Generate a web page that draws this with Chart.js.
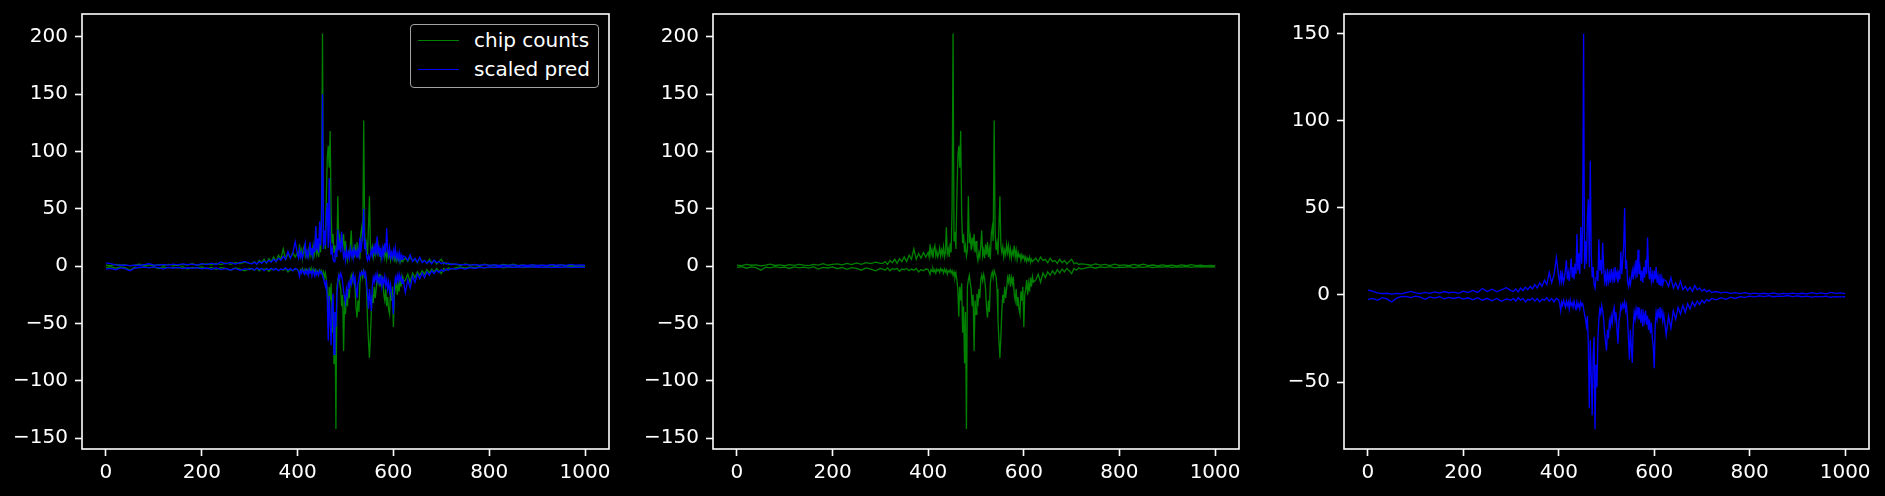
<!DOCTYPE html>
<html>
<head>
<meta charset="utf-8">
<script src="https://cdn.jsdelivr.net/npm/chart.js@4.4.0/dist/chart.umd.min.js"></script>
<style>
  html, body { margin: 0; padding: 0; background: #000; }
  #wrap { position: relative; width: 1885px; height: 496px; background: #000; overflow: hidden; }
  canvas { position: absolute; top: 0; }
  .lg-box { position: absolute; box-sizing: border-box; border: 1.5px solid #a3a3a3; border-radius: 4px; background: #000; }
  .lg-line { position: absolute; height: 1px; }
  .lg-text { position: absolute; font: 20px 'DejaVu Sans', sans-serif; line-height: 28px; color: #fff; white-space: nowrap; }
</style>
</head>
<body>
<div id="wrap">
  <canvas id="c1" width="619" height="496" style="left:0px"></canvas>
  <canvas id="c2" width="619" height="496" style="left:630px"></canvas>
  <canvas id="c3" width="619" height="496" style="left:1260px"></canvas>
</div>
<script>
// sample positions: coarse on the flat tails, fine in the middle
function steps(a, b, s) { const out = []; for (let v = a; v <= b; v += s) out.push(v); return out; }
const xPos = [].concat(steps(0, 300, 10), steps(305, 395, 5), steps(400, 620, 2), steps(625, 720, 5), steps(730, 1000, 10));

const xTicks = [0, 200, 400, 600, 800, 1000];
const yTicksChip = [-150, -100, -50, 0, 50, 100, 150, 200];
const yTicksPred = [-50, 0, 50, 100, 150];

const seriesLabels = ['chip counts', 'scaled pred'];
const seriesColors = ['#008000', '#0000ff'];

// chip counts, upper strand
const chipPos = [
  1, 0.5, 1.5, 0.8, 1.2, 0.3, 1, 1.8, 0.6, 1.1, 0.4, 1.3, 0.7, 1.5, 0.9, 0.5, 1.6, 1, 2.2, 0.8, 1.5, 2, 1.2, 2.5, 1.4, 2.8, 1.6, 3, 2.2, 3.5, 2.5,
  2.5, 4, 1.5, 5, 3, 6, 2.5, 6.5, 4, 8, 4, 9.5, 6, 15, 6, 11, 7, 12, 8,
  12, 8, 19, 10, 14, 7, 15, 18, 9, 13,
  8, 11, 16, 9, 14, 10, 17, 8, 12, 34,
  11, 15, 8, 20, 12, 51, 203, 22, 30, 15,
  60, 95, 105, 86, 118, 45, 20, 28, 12, 18,
  9, 14, 61, 20, 26, 14, 25, 18, 28, 12,
  22, 10, 5, 12, 8, 18, 31, 9, 14, 7,
  19, 10, 21, 8, 15, 6, 28, 34, 22, 127,
  30, 14, 20, 10, 35, 61, 18, 12, 17, 8,
  14, 10, 19, 12, 18, 9, 15, 7, 13, 10,
  18, 8, 14, 6, 12, 8, 11, 5, 10, 7,
  9, 5, 8, 4, 7, 5, 8, 3, 6, 4,
  5,
  7, 4, 8, 5, 6, 3, 7, 4, 5, 2.5, 6, 3, 5, 2, 4, 6, 2, 3, 1.5, 2,
  1.5, 0.8, 2, 1, 1.5, 0.5, 1.8, 0.7, 1.2, 0.4, 1.5, 0.6, 1.8, 0.5, 1, 0.3, 1.2, 0.5, 0.9, 0.3, 1.1, 0.4, 1.3, 0.5, 0.8, 0.2, 0.6, 0.3
];
// chip counts, lower strand
const chipNeg = [
  -1, -0.5, -1.8, -0.7, -1.2, -3.5, -0.8, -1.5, -0.4, -1.3, -0.9, -2, -0.6, -1.4, -0.8, -1.7, -0.5, -2.5, -1, -1.6, -0.7, -2.2, -1.1, -2.8, -1.3, -2, -3.5, -1.5, -2.6, -4, -2,
  -2.5, -3.5, -1.5, -4, -2, -3, -1.8, -4.5, -2.5, -3, -2, -4, -2.5, -3.5, -2, -5, -3, -4, -2.5,
  -3, -5, -7, -3, -4.5, -2, -5, -3, -6, -2.5,
  -4, -3, -5.5, -2, -4, -3, -6, -2.5, -5, -3,
  -7, -4, -5, -3, -6, -4, -8, -5, -10, -6,
  -12, -20, -44, -18, -30, -15, -58, -35, -85, -40,
  -142, -18, -12, -8, -15, -20, -35, -25, -74, -30,
  -42, -24, -35, -20, -28, -12, -8, -13, -7, -11,
  -20, -36, -45, -30, -40, -15, -8, -5, -10, -4,
  -7, -9, -20, -47, -65, -80, -62, -39, -25, -32,
  -18, -28, -20, -10, -14, -7, -18, -10, -15, -9,
  -25, -30, -20, -35, -27, -38, -42, -22, -30, -18,
  -53, -25, -20, -12, -25, -15, -22, -10, -18, -9,
  -14,
  -12, -7, -14, -6, -10, -5, -8, -4, -7, -3, -6, -2.5, -5, -2, -4, -6.5, -2, -3.5, -1.5, -2.5,
  -1.5, -0.7, -1.8, -0.6, -1.2, -0.4, -1.5, -0.8, -1.1, -0.3, -1.4, -0.6, -1, -0.4, -1.3, -0.5, -0.9, -0.3, -1.1, -0.5, -0.8, -0.3, -1, -0.4, -0.7, -0.3, -0.8, -0.5
];
// scaled prediction, upper strand
const predPos = [
  2.8, 2.2, 1.2, 0.8, 1, 0.5, 0.9, 0.6, 1.4, 2.1, 1.2, 0.8, 1.5, 0.9, 1.8, 1.1, 2, 1.3, 1.7, 1, 2.2, 1.4, 2.6, 1.5, 3.7, 2, 3.3, 1.8, 3, 4.2, 2.5,
  2, 3.5, 1.8, 4, 2.5, 4.5, 3, 5, 3.5, 6, 4, 7, 5, 8.5, 6, 13, 7, 11.5, 21.5,
  10, 7, 14, 8, 12, 7, 10, 15, 20, 9,
  13, 8, 14, 21, 10, 16, 9, 18, 12, 35,
  14, 24, 12, 39, 18, 40, 150, 15, 31, 18,
  45, 55, 16, 77, 24, 10, 16, 6, 4, 10,
  14, 8, 32, 14, 20, 12, 30, 16, 8, 12,
  5, 15, 8, 12, 7, 15, 9, 13, 7, 16,
  10, 13, 7, 14, 9, 25, 12, 20, 28, 50,
  15, 20, 8, 5, 9, 6, 10, 14, 9, 16,
  12, 20, 10, 26, 12, 16, 8, 14, 7, 16,
  10, 20, 12, 33, 14, 9, 16, 8, 12, 7,
  14, 9, 16, 7, 11, 6, 12, 5, 10, 6,
  9,
  8, 5, 10, 4, 7, 3.5, 8, 3, 5, 2.5, 4.5, 2, 5.5, 3, 4, 2.2, 3.3, 1.8, 2.8, 1.5,
  2, 1.2, 1.6, 0.9, 1.4, 0.8, 1.3, 0.7, 1.1, 0.6, 1, 0.7, 1.2, 0.5, 0.9, 0.6, 1.1, 0.7, 1, 0.6, 1.3, 0.8, 1.2, 0.7, 1.5, 0.9, 1.2, 0.8
];
// scaled prediction, lower strand
const predNeg = [
  -2.5, -2, -3.1, -1.5, -2.2, -4, -1.8, -1, -0.8, -1.5, -0.7, -1.2, -2.5, -1.1, -1.8, -1, -2.2, -1.4, -2, -1.3, -2.4, -1.6, -2.8, -1.5, -3, -1.9, -3.3, -2, -3.6, -2.2, -3,
  -2, -3.5, -1.5, -3, -2, -4, -2.5, -3, -1.8, -3.5, -2, -4, -2.5, -3, -1.5, -3.5, -2, -4, -1.8,
  -3, -5, -9, -4, -6, -3, -5, -7, -3.5, -6,
  -4, -8, -3, -6, -4.5, -7, -3.5, -6, -8.8, -4,
  -7, -5, -8, -4, -6, -5, -8, -11, -14, -18,
  -12, -30, -65, -26, -45, -69, -35, -24, -77, -40,
  -53, -25, -14, -8, -10.7, -6, -9, -14, -22, -27,
  -32, -20, -25, -15, -18, -12, -16, -10, -7, -14,
  -10, -20, -28, -15, -12, -6, -8, -5, -7, -4,
  -9, -6, -14, -25, -37, -20, -30, -39, -18, -10,
  -14, -8, -12, -7, -14, -10, -16, -8, -18, -11,
  -15, -9, -17, -12, -20, -14, -22, -16, -25, -30,
  -42, -18, -10, -14, -8, -13, -7, -12, -9, -15,
  -11,
  -23, -12, -19, -9, -14, -7, -11, -6, -10, -5, -8, -4, -6.5, -3.5, -5.5, -3, -4.5, -2.5, -3.5, -2,
  -2.8, -1.5, -2.5, -1.2, -2, -1, -1.4, -0.6, -1.1, -0.5, -0.9, -0.4, -1, -0.6, -0.8, -0.3, -0.9, -0.5, -1, -0.6, -1.2, -0.8, -1.1, -0.7, -1.3, -0.9, -1.1, -1
];

function pts(vals) { return vals.map((v, i) => ({ x: xPos[i], y: v })); }

function line(vals, color, order) {
  return { data: pts(vals), borderColor: color, borderWidth: 1.3, pointRadius: 0, tension: 0, fill: false, order: order };
}

const minus = v => String(v).replace('-', '\u2212');

const framePlugin = {
  id: 'frame',
  afterDatasetsDraw(chart) {
    const { ctx, chartArea: a } = chart;
    ctx.save();
    ctx.strokeStyle = '#ffffff';
    ctx.lineWidth = 1.6;
    ctx.strokeRect(a.left, a.top, a.right - a.left, a.bottom - a.top);
    ctx.restore();
  }
};

Chart.defaults.font.family = "'DejaVu Sans', sans-serif";
Chart.defaults.font.size = 20;
Chart.defaults.color = '#ffffff';

function makePanel(id, datasets, yMin, yMax, yTicks, yWidth) {
  return new Chart(document.getElementById(id), {
    type: 'line',
    data: { datasets: datasets },
    plugins: [framePlugin],
    options: {
      responsive: false,
      animation: false,
      events: [],
      devicePixelRatio: 1,
      parsing: false,
      layout: { padding: { top: 14, right: 10, left: 0, bottom: 0 } },
      plugins: { legend: { display: false }, tooltip: { enabled: false } },
      scales: {
        x: {
          type: 'linear', min: -50, max: 1050,
          afterBuildTicks: s => { s.ticks = xTicks.map(v => ({ value: v })); },
          afterFit: s => { s.height = 47; s.paddingLeft = 0; s.paddingRight = 0; },
          grid: { drawOnChartArea: false, drawTicks: true, tickLength: 7, tickColor: '#fff', tickWidth: 1.6 },
          border: { display: false },
          ticks: { autoSkip: false, maxRotation: 0, padding: 5, color: '#fff', callback: v => String(v) }
        },
        y: {
          type: 'linear', min: yMin, max: yMax,
          afterBuildTicks: s => { s.ticks = yTicks.map(v => ({ value: v })); },
          afterFit: s => { s.width = yWidth; s.paddingTop = 0; s.paddingBottom = 0; },
          grid: { drawOnChartArea: false, drawTicks: true, tickLength: 7, tickColor: '#fff', tickWidth: 1.6 },
          border: { display: false },
          ticks: { autoSkip: false, padding: 7, color: '#fff', callback: minus }
        }
      }
    }
  });
}

makePanel('c1', [
  line(chipPos, seriesColors[0], 2), line(chipNeg, seriesColors[0], 2),
  line(predPos, seriesColors[1], 1), line(predNeg, seriesColors[1], 1)
], -159.5, 220, yTicksChip, 82);

makePanel('c2', [
  line(chipPos, seriesColors[0], 1), line(chipNeg, seriesColors[0], 1)
], -159.5, 220, yTicksChip, 83);

makePanel('c3', [
  line(predPos, seriesColors[1], 1), line(predNeg, seriesColors[1], 1)
], -88.4, 161.3, yTicksPred, 84);

// legend for the first panel
const wrap = document.getElementById('wrap');
const box = document.createElement('div');
box.className = 'lg-box';
Object.assign(box.style, { left: '410px', top: '24px', width: '189px', height: '64px' });
wrap.appendChild(box);
seriesLabels.forEach((label, i) => {
  const ln = document.createElement('div');
  ln.className = 'lg-line';
  Object.assign(ln.style, { left: '418px', top: (39.5 + i * 29) + 'px', width: '41px', background: seriesColors[i] });
  wrap.appendChild(ln);
  const tx = document.createElement('div');
  tx.className = 'lg-text';
  Object.assign(tx.style, { left: '474px', top: (26.4 + i * 28.7) + 'px' });
  tx.textContent = label;
  wrap.appendChild(tx);
});
</script>
</body>
</html>
